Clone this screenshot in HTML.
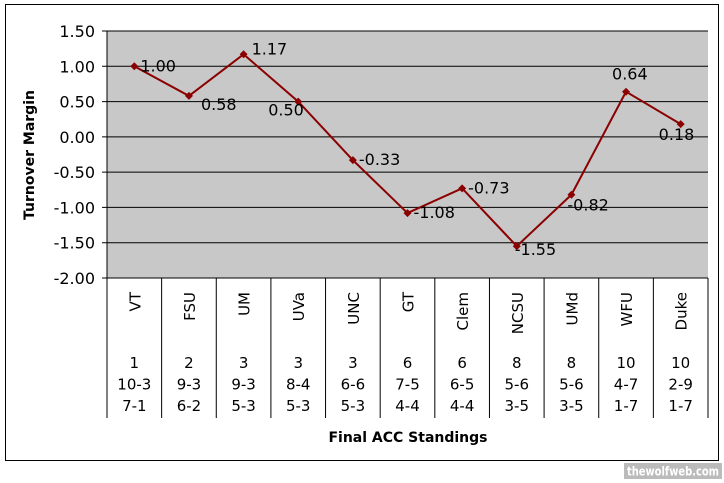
<!DOCTYPE html>
<html><head><meta charset="utf-8"><style>
body{margin:0;background:#fff;font-family:"DejaVu Sans","Liberation Sans",sans-serif}
svg text{font-family:"DejaVu Sans","Liberation Sans",sans-serif}
</style></head><body>
<svg width="724" height="479" viewBox="0 0 724 479">
<rect x="5.5" y="4.5" width="713" height="456" fill="#fff" stroke="#000"/>
<rect x="107" y="31" width="601" height="247" fill="#c8c8c8"/>
<g id="grid"></g><g id="cats"></g><g id="series"></g>
<text x="34" y="155" transform="rotate(-90 34 155)" text-anchor="middle" font-size="14" font-weight="bold">Turnover Margin</text>
<text x="408" y="442" text-anchor="middle" font-size="14" font-weight="bold">Final ACC Standings</text>
<rect x="624" y="463" width="98" height="16" fill="#bbb"/>
<text x="627" y="475.5" font-size="12" font-weight="bold" fill="#fff" textLength="92" lengthAdjust="spacingAndGlyphs">thewolfweb.com</text>
</svg>
<script>
const categories=["VT","FSU","UM","UVa","UNC","GT","Clem","NCSU","UMd","WFU","Duke"];
const ranks=["1","2","3","3","3","6","6","8","8","10","10"];
const overall=["10-3","9-3","9-3","8-4","6-6","7-5","6-5","5-6","5-6","4-7","2-9"];
const conf=["7-1","6-2","5-3","5-3","5-3","4-4","4-4","3-5","3-5","1-7","1-7"];
const values=[1.00,0.58,1.17,0.50,-0.33,-1.08,-0.73,-1.55,-0.82,0.64,0.18];
const yTicks=[1.5,1.0,0.5,0,-0.5,-1.0,-1.5,-2.0];
const labelOffsets=[[6,5],[12,14],[8,0],[-30,14],[6,5],[6,5],[6,5],[-2,9],[-4,16],[-14,-12],[-22,16]];
const NS="http://www.w3.org/2000/svg";
const L=107,R=708,T=31,B=278,ymin=-2,ymax=1.5;
const y=v=>T+(ymax-v)/(ymax-ymin)*(B-T);
const bw=(R-L)/categories.length;
const x=i=>L+bw*(i+0.5);
function mk(tag,attrs,parent,txt){const e=document.createElementNS(NS,tag);for(const k in attrs)e.setAttribute(k,attrs[k]);if(txt!==undefined)e.textContent=txt;parent.appendChild(e);return e;}
const grid=document.getElementById('grid');
yTicks.forEach(v=>{
 const gl=mk('line',{x1:102,x2:R,y1:y(v),y2:y(v),stroke:'#000','stroke-width':1},grid);
 
 
 const t=mk('text',{x:95,y:y(v)+6,'text-anchor':'end','font-size':16},grid,v.toFixed(2));
 
 
});
const ax=mk('line',{x1:L,x2:L,y1:T,y2:B,stroke:'#000'},grid);


const cats=document.getElementById('cats');
for(let i=0;i<=categories.length;i++){
 const dl=mk('line',{x1:L+bw*i,x2:L+bw*i,y1:B,y2:418,stroke:'#000'},cats);
 
 
}
categories.forEach((c,i)=>{
 const cx=x(i);
 const t=mk('text',{x:cx+6,y:292,'text-anchor':'end','font-size':15,transform:`rotate(-90 ${cx+6} 292)`},cats,c);
 
 
 [ranks[i],overall[i],conf[i]].forEach((s,j)=>{
  const tt=mk('text',{x:cx,y:368+j*21.5,'text-anchor':'middle','font-size':15},cats,s);
  
  
 });
});
const g=document.getElementById('series');
const pl=mk('polyline',{points:values.map((v,i)=>x(i)+','+y(v)).join(' '),fill:'none',stroke:'#8b0000','stroke-width':2},g);


values.forEach((v,i)=>{
 const cx=x(i),cy=y(v);
 const m=mk('polygon',{points:`${cx},${cy-4} ${cx+4},${cy} ${cx},${cy+4} ${cx-4},${cy}`,fill:'#8b0000'},g);
 
 
 const o=labelOffsets[i];
 const t=mk('text',{x:cx+o[0],y:cy+o[1],'font-size':16},g,v.toFixed(2));
 
 
});
</script>
</body></html>
